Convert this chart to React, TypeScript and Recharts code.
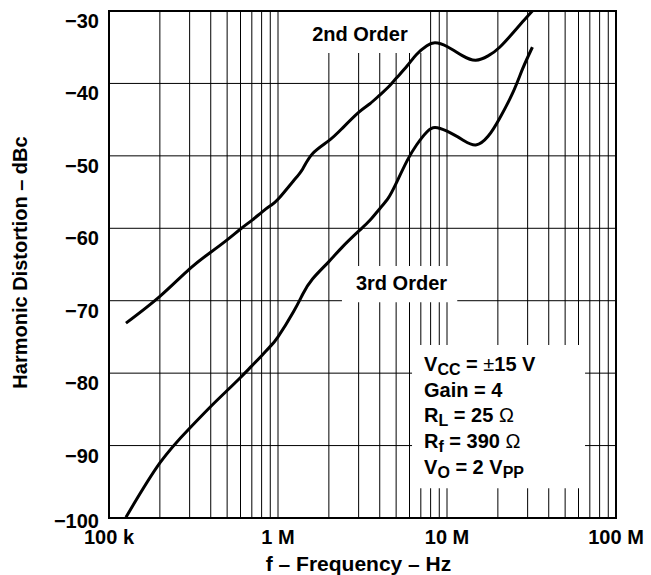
import React from "react";
import { LineChart, Line, XAxis, YAxis, CartesianGrid, ReferenceArea } from "recharts";

// frequency in Hz and distortion in dBc
const freqHz = [
  126e3, 200e3, 300e3, 400e3, 500e3, 600e3, 700e3, 800e3, 900e3, 1e6, 1.23e6, 1.4e6, 1.6e6, 2e6, 2.4e6, 3e6,
  3.5e6, 4e6, 4.5e6, 5e6, 5.8e6, 6.6e6, 7.6e6, 8.5e6, 10e6, 12.4e6, 14.8e6, 17.5e6, 20.5e6, 24.6e6, 28e6, 32e6,
];
const secondOrder = [
  -73.1, -69.4, -65.6, -63.3, -61.6, -60.1, -58.9, -57.8, -56.9, -56.0, -53.5, -51.8, -49.7, -47.9, -46.2, -44.0,
  -42.8, -41.6, -40.5, -39.3, -37.6, -36.0, -34.8, -34.4, -34.9, -36.2, -36.8, -36.2, -35.0, -33.0, -31.5, -30.0,
];
const thirdOrder = [
  -99.9, -92.4, -87.6, -84.6, -82.4, -80.6, -79.0, -77.6, -76.3, -75.0, -71.6, -69.1, -67.0, -64.6, -62.6, -60.4,
  -58.9, -57.3, -55.8, -53.8, -50.7, -48.5, -46.7, -46.1, -46.6, -47.8, -48.5, -47.3, -44.8, -41.2, -38.0, -35.0,
];

const decades = [1e5, 1e6, 1e7, 1e8];
const decadeLabels = ["100 k", "1 M", "10 M", "100 M"];
const yTicks = [-100, -90, -80, -70, -60, -50, -40, -30];

const gridFreqs = decades
  .slice(0, 3)
  .flatMap((d) => [1, 2, 3, 4, 5, 6, 7, 8, 9].map((k) => d * k))
  .concat(1e8);

const data = freqHz.map((f, i) => ({ f, second: secondOrder[i], third: thirdOrder[i] }));

const FONT = "'Liberation Sans', Arial, Helvetica, sans-serif";

const XTick = (props: any) => {
  const { x, y, payload } = props;
  const i = decades.indexOf(payload.value);
  if (i < 0) return <g />;
  return (
    <text x={x} y={y} dy={26} textAnchor="middle" fontSize={20} fontWeight="bold" fill="#000" fontFamily={FONT}>
      {decadeLabels[i]}
    </text>
  );
};

const YTick = (props: any) => {
  const { x, y, payload } = props;
  return (
    <text
      x={x - 10}
      y={y}
      dy={payload.value === -100 ? 10 : 17}
      textAnchor="end"
      fontSize={20}
      fontWeight="bold"
      fill="#000"
      fontFamily={FONT}
    >
      {"\u2212" + Math.abs(payload.value)}
    </text>
  );
};

const textStyle = { fontSize: 20, fontWeight: "bold" as const, fill: "#000", fontFamily: FONT };

const noteLabel = (value: string, dx: number, baseline: number) => (props: any) => {
  const { x, y } = props.viewBox;
  return (
    <text x={x + dx} y={y + baseline} {...textStyle}>
      {value}
    </text>
  );
};

const paramLabel = (props: any) => {
  const { x, y } = props.viewBox;
  const tx = x + 12;
  const sub = { fontSize: 16 };
  return (
    <text {...textStyle}>
      <tspan x={tx} y={y + 26}>V</tspan>
      <tspan {...sub} dy={4}>CC</tspan>
      <tspan dy={-4}> = </tspan>
      <tspan fontWeight="normal">±</tspan>
      <tspan>15 V</tspan>
      <tspan x={tx} y={y + 52}>Gain = 4</tspan>
      <tspan x={tx} y={y + 77}>R</tspan>
      <tspan {...sub} dy={4}>L</tspan>
      <tspan dy={-4}> = 25 </tspan>
      <tspan fontWeight="normal">Ω</tspan>
      <tspan x={tx} y={y + 103}>R</tspan>
      <tspan {...sub} dy={4}>f</tspan>
      <tspan dy={-4}> = 390 </tspan>
      <tspan fontWeight="normal">Ω</tspan>
      <tspan x={tx} y={y + 129}>V</tspan>
      <tspan {...sub} dy={4}>O</tspan>
      <tspan dy={-4}> = 2 V</tspan>
      <tspan {...sub} dy={4}>PP</tspan>
    </text>
  );
};

const yTitle = (props: any) => {
  const { y, height } = props.viewBox;
  const cx = 27;
  const cy = y + height / 2 - 2;
  return (
    <text x={cx} y={cy} textAnchor="middle" transform={`rotate(-90, ${cx}, ${cy})`} {...textStyle}>
      Harmonic Distortion – dBc
    </text>
  );
};

const xTitle = (props: any) => {
  const { x, width } = props.viewBox;
  return (
    <text x={x + width / 2 - 4} y={571} textAnchor="middle" {...textStyle} fontSize={21}>
      f – Frequency – Hz
    </text>
  );
};

export default function App() {
  return (
    <div style={{ position: "absolute", left: 0, top: 0, background: "#fff" }}>
      <LineChart width={651} height={575} data={data} margin={{ top: 11, right: 35, bottom: 0, left: 0 }}>
        <CartesianGrid stroke="#000" strokeWidth={1} verticalValues={gridFreqs} horizontalValues={yTicks} />
        <XAxis
          dataKey="f"
          type="number"
          scale="log"
          domain={[1e5, 1e8]}
          ticks={gridFreqs}
          interval={0}
          allowDataOverflow
          height={57}
          axisLine={false}
          tickLine={false}
          tickSize={0}
          tickMargin={0}
          tick={<XTick />}
          label={xTitle}
        />
        <YAxis
          type="number"
          domain={[-100, -30]}
          ticks={yTicks}
          interval={0}
          width={109}
          axisLine={false}
          tickLine={false}
          tickSize={0}
          tickMargin={0}
          tick={<YTick />}
          label={yTitle}
        />
        <ReferenceArea x1={1.39e6} x2={7.6e6} y1={-35.8} y2={-30} fill="#fff" fillOpacity={1} label={noteLabel("2nd Order", 10, 30)} />
        <ReferenceArea x1={2.39e6} x2={11.5e6} y1={-70.2} y2={-65.2} fill="#fff" fillOpacity={1} label={noteLabel("3rd Order", 14, 24)} />
        <ReferenceArea x1={6.21e6} x2={6.56e7} y1={-95.9} y2={-76.1} fill="#fff" fillOpacity={1} label={paramLabel} />
        <Line dataKey="second" type="natural" stroke="#000" strokeWidth={3} dot={false} isAnimationActive={false} />
        <Line dataKey="third" type="natural" stroke="#000" strokeWidth={3} dot={false} isAnimationActive={false} />
        <ReferenceArea x1={1e5} x2={1e8} y1={-100} y2={-30} fill="none" stroke="#000" strokeWidth={2} />
      </LineChart>
    </div>
  );
}
